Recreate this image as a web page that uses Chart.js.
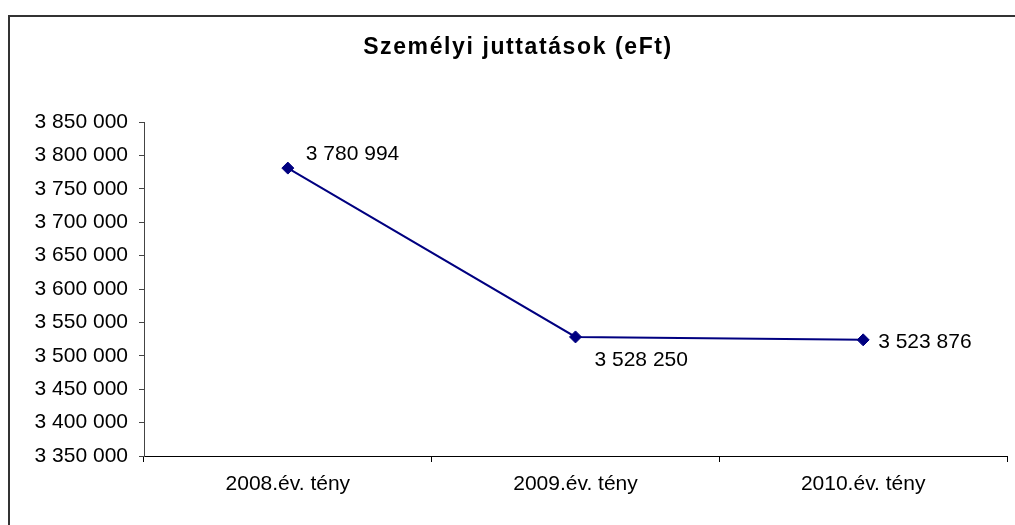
<!DOCTYPE html>
<html>
<head>
<meta charset="utf-8">
<script src="https://cdn.jsdelivr.net/npm/chart.js@4"></script>
<style>
  html, body { margin: 0; padding: 0; background: #fff; overflow: hidden; }
  #frame { position: absolute; left: 8px; top: 15px; width: 1100px; height: 600px; border: 2px solid #333; box-sizing: border-box; }
  #wrap { position: absolute; left: 0; top: 0; width: 1015px; height: 525px; }
</style>
</head>
<body>
<div id="frame"></div>
<div id="wrap"><canvas id="myChart" width="1015" height="525"></canvas></div>
<script>
const categories = ['2008.év. tény', '2009.év. tény', '2010.év. tény'];
const values = [3780994, 3528250, 3523876];
const yMin = 3350000;
const yMax = 3850000;
const yStep = 50000;
const titleText = 'Személyi juttatások (eFt)';

const FONT = '"Liberation Sans", Arial, sans-serif';
const NAVY = '#000080';

function fmt(v) {
  return String(v).replace(/\B(?=(\d{3})+(?!\d))/g, ' ');
}

// title drawn by hand so it can get the wide letter spacing
const spacedTitle = {
  id: 'spacedTitle',
  afterDraw(chart, args, opts) {
    const ctx = chart.ctx;
    ctx.save();
    ctx.font = 'bold 23px ' + FONT;
    ctx.letterSpacing = '1.6px';
    ctx.fillStyle = '#000';
    ctx.textAlign = 'center';
    ctx.textBaseline = 'middle';
    ctx.fillText(titleText, opts.x, opts.y);
    ctx.restore();
  }
};

// value labels next to each point
const pointLabels = {
  id: 'pointLabels',
  afterDatasetsDraw(chart, args, opts) {
    const ctx = chart.ctx;
    const meta = chart.getDatasetMeta(0);
    ctx.save();
    ctx.font = '21px ' + FONT;
    ctx.fillStyle = '#000';
    ctx.textAlign = 'left';
    ctx.textBaseline = 'middle';
    meta.data.forEach((pt, i) => {
      const off = opts.offsets[i];
      ctx.fillText(fmt(values[i]), pt.x + off[0], pt.y + off[1]);
    });
    ctx.restore();
  }
};

const data = {
  labels: categories,
  datasets: [{
    data: values,
    borderColor: NAVY,
    backgroundColor: NAVY,
    borderWidth: 2,
    pointStyle: 'rectRot',
    pointRadius: 6,
    pointBorderWidth: 1,
    pointBackgroundColor: NAVY,
    pointBorderColor: NAVY,
    tension: 0
  }]
};

const config = {
  type: 'line',
  data: data,
  plugins: [spacedTitle, pointLabels],
  options: {
    responsive: false,
    animation: false,
    layout: { padding: { left: 0, right: 8, top: 122, bottom: 19 } },
    plugins: {
      legend: { display: false },
      title: { display: false },
      tooltip: { enabled: false },
      spacedTitle: { x: 518, y: 48 },
      pointLabels: { offsets: [[18, -14], [19, 23], [15, 2]] }
    },
    scales: {
      x: {
        offset: true,
        grid: { offset: true, drawOnChartArea: false, drawTicks: true, tickLength: 6, color: '#000' },
        border: { color: '#000', width: 1 },
        ticks: { color: '#000', font: { family: FONT, size: 21 }, padding: 10, maxRotation: 0 },
        afterFit(scale) { scale.height = 50; }
      },
      y: {
        min: yMin,
        max: yMax,
        ticks: { stepSize: yStep, callback: fmt, color: '#000', font: { family: FONT, size: 21 }, padding: 11 },
        grid: { drawOnChartArea: false, drawTicks: true, tickLength: 5, color: '#444' },
        border: { color: '#444', width: 1 },
        afterFit(scale) { scale.width = 144; }
      }
    }
  }
};

const myChart = new Chart(document.getElementById('myChart'), config);
</script>
</body>
</html>
